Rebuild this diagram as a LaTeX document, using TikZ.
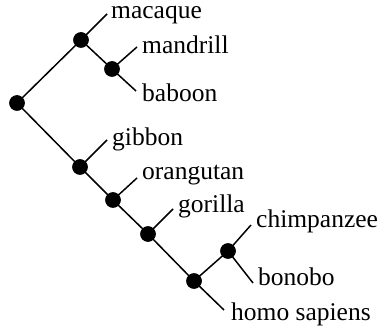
\documentclass[tikz,border=0pt]{standalone}
\usepackage{fontspec}
\setmainfont{Liberation Serif}
\begin{document}
\begin{tikzpicture}[x=1pt,y=-1pt,
  branch/.style={line width=1.5pt},
  dot/.style={circle,fill=black,inner sep=0pt,minimum size=15.5pt},
  leaf/.style={anchor=base west,inner sep=0pt,text height=1.6ex,
    font=\fontsize{25.5}{30}\selectfont}]
\useasboundingbox (0,0) rectangle (380,331);
% inner nodes
\node[dot] (r) at (17,103) {};
\node[dot] (a) at (81,40) {};
\node[dot] (b) at (112,69) {};
\node[dot] (c) at (80,167) {};
\node[dot] (d) at (113,200) {};
\node[dot] (e) at (148,234) {};
\node[dot] (f) at (194,281) {};
\node[dot] (g) at (228,251) {};
% leaf line ends
\coordinate (macE) at (107,14);
\coordinate (manE) at (137,47);
\coordinate (babE) at (136,91);
\coordinate (gibE) at (107,140);
\coordinate (oraE) at (137,178);
\coordinate (gorE) at (173,209);
\coordinate (chiE) at (251,225);
\coordinate (bonE) at (253,283);
\coordinate (homE) at (224,310);
% leaf labels
\node[leaf] (mac) at (111,19) {macaque};
\node[leaf] (man) at (142,54) {mandrill};
\node[leaf] (bab) at (142,102) {baboon};
\node[leaf] (gib) at (112,146) {gibbon};
\node[leaf] (ora) at (142,180) {orangutan};
\node[leaf] (gor) at (178,213) {gorilla};
\node[leaf] (chi) at (256,227) {chimpanzee};
\node[leaf] (bon) at (258,285) {bonobo};
\node[leaf] (hom) at (231,320) {homo sapiens};
% branches
\draw[branch] (r.center) -- (a.center) -- (macE);
\draw[branch] (a.center) -- (b.center) -- (manE);
\draw[branch] (b.center) -- (babE);
\draw[branch] (r.center) -- (c.center) -- (gibE);
\draw[branch] (c.center) -- (d.center) -- (oraE);
\draw[branch] (d.center) -- (e.center) -- (gorE);
\draw[branch] (e.center) -- (f.center) -- (homE);
\draw[branch] (f.center) -- (g.center) -- (chiE);
\draw[branch] (g.center) -- (bonE);
% redraw dots on top of branches
\foreach \n in {r,a,b,c,d,e,f,g} \fill (\n) circle (7.75pt);
\end{tikzpicture}
\end{document}
